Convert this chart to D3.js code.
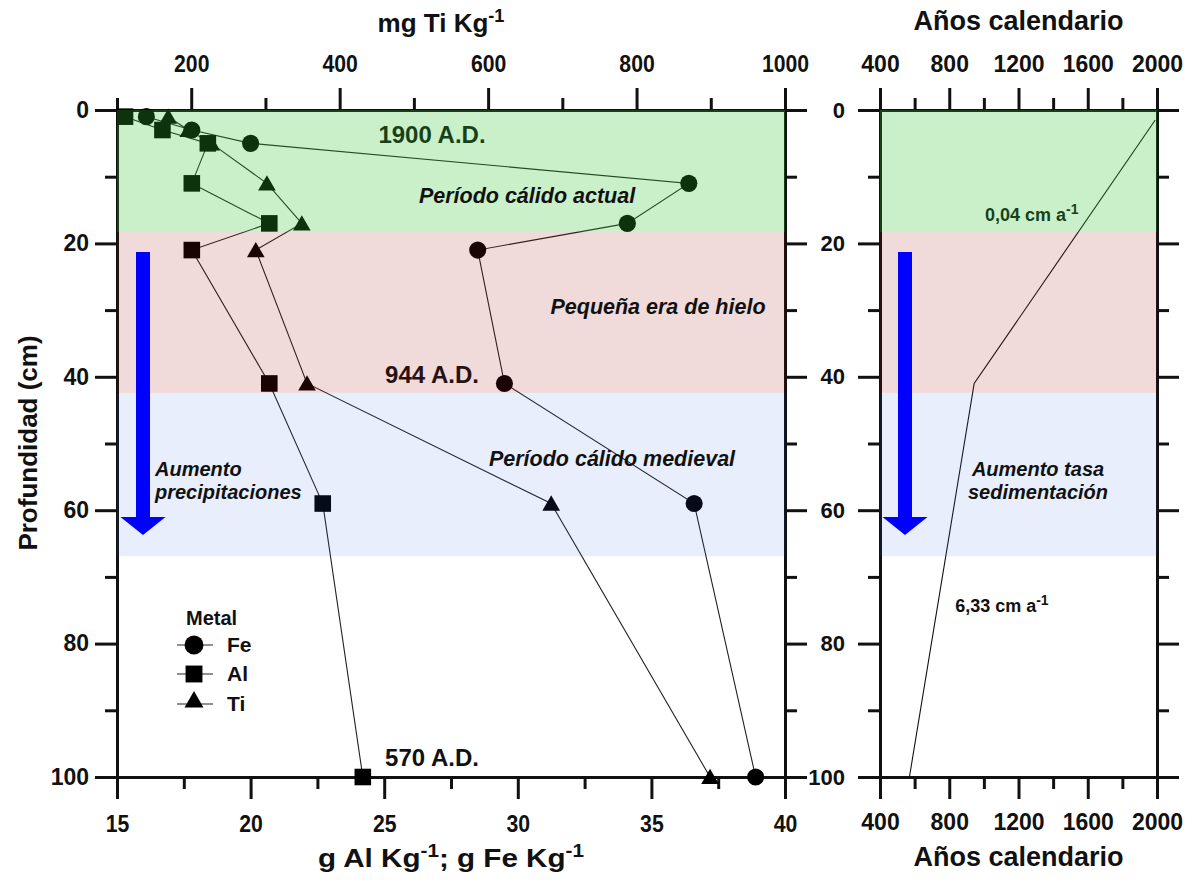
<!DOCTYPE html>
<html>
<head>
<meta charset="utf-8">
<script src="https://cdn.jsdelivr.net/npm/d3@7"></script>
<style>
  body { margin: 0; background: #fff; }
  svg text { font-family: "Liberation Sans", Arial, sans-serif; font-weight: bold; }
</style>
</head>
<body>
<svg id="chart" width="1188" height="880"></svg>
<script>
// sampled depths (cm) and metal contents
const depth = [1, 3, 5, 11, 17, 21, 41, 59, 100];
const fe = [16.1, 17.8, 20.0, 36.4, 34.1, 28.5, 29.5, 36.6, 38.9];   // g Fe Kg-1
const al = [15.3, 16.7, 18.4, 17.8, 20.7, 17.8, 20.7, 22.7, 24.2];   // g Al Kg-1
const ti = [169, 196, 227, 302, 349, 287, 356, 685, 899];            // mg Ti Kg-1

// age model
const ageYears = [1990, 944, 570];
const ageDepth = [1.5, 41, 100];

// climate periods (depth ranges, cm)
const periods = [
  { name: "Período cálido actual", top: 0, bottom: 18.3, color: "rgb(46,197,46)", alpha: 0.26 },
  { name: "Pequeña era de hielo", top: 18.3, bottom: 42.4, color: "rgb(159,19,19)", alpha: 0.157 },
  { name: "Período cálido medieval", top: 42.4, bottom: 66.9, color: "rgb(45,100,227)", alpha: 0.11 }
];

const depthTicks = [0, 20, 40, 60, 80, 100];
const depthMinor = [10, 30, 50, 70, 90];
const gTicks = [15, 20, 25, 30, 35, 40];
const gMinor = [17.5, 22.5, 27.5, 32.5, 37.5];
const tiTicks = [200, 400, 600, 800, 1000];
const tiMinor = [100, 300, 500, 700, 900];
const yearTicks = [400, 800, 1200, 1600, 2000];
const yearMinor = [600, 1000, 1400, 1800];

const svg = d3.select("#chart");

const leftP = { x0: 117, x1: 785 };
const rightP = { x0: 880, x1: 1157 };
const yTop = 110, yBot = 777;

const y = d3.scaleLinear().domain([0, 100]).range([yTop, yBot]);
const xG = d3.scaleLinear().domain([15, 40]).range([leftP.x0, leftP.x1]);
const xTi = d3.scaleLinear().domain([100, 1000]).range([leftP.x0, leftP.x1]);
const xYr = d3.scaleLinear().domain([400, 2000]).range([rightP.x0, rightP.x1]);

function drawAxis(make, scale, major, minor, transform, opts) {
  const g = svg.append("g").attr("transform", transform);
  const ax = make(scale).tickValues(major).tickSize(22).tickSizeOuter(0)
    .tickPadding(opts.pad || 6)
    .tickFormat(opts.labels ? d3.format("d") : "");
  const gMaj = g.append("g").call(ax);
  const txt = gMaj.selectAll("text").attr("font-size", opts.size || 21).attr("fill", "#111");
  // condensed look: taller glyphs squeezed to the original width
  if (opts.narrow) txt.attr("textLength", function() { return this.textContent.length * 11.8; })
    .attr("lengthAdjust", "spacingAndGlyphs");
  const gMin = g.append("g").call(make(scale).tickValues(minor).tickSize(12).tickSizeOuter(0).tickFormat(""));
  gMin.select(".domain").remove();
  g.selectAll("line").attr("stroke", "#111").attr("stroke-width", 3);
  g.selectAll(".domain").attr("stroke", "#111").attr("stroke-width", 3).attr("stroke-linecap", "square");
  return g;
}

// ---- left panel axes
drawAxis(d3.axisLeft, y, depthTicks, depthMinor, `translate(${leftP.x0},0)`, { labels: true, pad: 6, size: 23 });
drawAxis(d3.axisRight, y, depthTicks, depthMinor, `translate(${leftP.x1},0)`, { labels: false });
drawAxis(d3.axisTop, xTi, tiTicks, tiMinor, `translate(0,${yTop})`, { labels: true, pad: 16, narrow: true, size: 24 });
drawAxis(d3.axisBottom, xG, gTicks, gMinor, `translate(0,${yBot})`, { labels: true, pad: 16, narrow: true, size: 24 });

// ---- right panel axes
drawAxis(d3.axisLeft, y, depthTicks, depthMinor, `translate(${rightP.x0},0)`, { labels: true, pad: 13, size: 22 });
drawAxis(d3.axisRight, y, depthTicks, depthMinor, `translate(${rightP.x1},0)`, { labels: false });
drawAxis(d3.axisTop, xYr, yearTicks, yearMinor, `translate(0,${yTop})`, { labels: true, pad: 16, size: 23 });
drawAxis(d3.axisBottom, xYr, yearTicks, yearMinor, `translate(0,${yBot})`, { labels: true, pad: 15, size: 23 });

// ---- series
const rows = depth.map((d, i) => ({ depth: d, fe: fe[i], al: al[i], ti: ti[i] }));
const series = [
  { key: "fe", x: xG, shape: d3.symbolCircle, size: 230 },
  { key: "al", x: xG, shape: d3.symbolSquare, size: 275 },
  { key: "ti", x: xTi, shape: d3.symbolTriangle, size: 135 }
];

const plot = svg.append("g");
series.forEach(s => {
  const line = d3.line().x(d => s.x(d[s.key])).y(d => y(d.depth));
  plot.append("path").datum(rows).attr("d", line)
    .attr("fill", "none").attr("stroke", "#222").attr("stroke-width", 1.1);
});
series.forEach(s => {
  plot.selectAll(null).data(rows).join("path")
    .attr("transform", d => `translate(${s.x(d[s.key])},${y(d.depth) + (s.shape === d3.symbolTriangle ? 2 : 0)})`)
    .attr("d", d3.symbol(s.shape, s.size))
    .attr("fill", "#000");
});

// age-depth line
const ageRows = ageYears.map((a, i) => ({ year: a, depth: ageDepth[i] }));
plot.append("path").datum(ageRows)
  .attr("d", d3.line().x(d => xYr(d.year)).y(d => y(d.depth)))
  .attr("fill", "none").attr("stroke", "#111").attr("stroke-width", 1.1);

// date labels (under the period tint)
const dates = [
  { text: "1900 A.D.", x: 432, d: 5.0 },
  { text: "944 A.D.", x: 432, d: 40.9 },
  { text: "570 A.D.", x: 432, d: 98.3 }
];
svg.selectAll(null).data(dates).join("text")
  .attr("x", d => d.x).attr("y", d => y(d.d))
  .attr("text-anchor", "middle").attr("font-size", 24).attr("fill", "#111")
  .text(d => d.text);

function rateLabel(x, yy, txt) {
  const t = svg.append("text").attr("x", x).attr("y", yy).attr("font-size", 18).attr("fill", "#111");
  t.append("tspan").text(txt);
  t.append("tspan").attr("dy", -7).attr("font-size", 14).text("-1");
}
rateLabel(xYr(1006), y(16.6), "0,04 cm a");
rateLabel(xYr(834), y(75.2), "6,33 cm a");

// ---- period tint, drawn over data like the original
[leftP, rightP].forEach(p => {
  svg.selectAll(null).data(periods).join("rect")
    .attr("x", p.x0).attr("width", p.x1 - p.x0)
    .attr("y", d => y(d.top)).attr("height", d => y(d.bottom) - y(d.top))
    .attr("fill", d => d.color).attr("fill-opacity", d => d.alpha);
});

// period names
const periodLabels = [
  { text: "Período cálido actual", x: 527, d: 13.9 },
  { text: "Pequeña era de hielo", x: 658, d: 30.6 },
  { text: "Período cálido medieval", x: 612, d: 53.4 }
];
svg.selectAll(null).data(periodLabels).join("text")
  .attr("x", d => d.x).attr("y", d => y(d.d))
  .attr("text-anchor", "middle").attr("font-size", 21.5).attr("font-style", "italic").attr("fill", "#111")
  .text(d => d.text);

// ---- blue arrows
const arrowTop = 21.3, arrowTip = 63.7, headLen = 18, shaftW = 14, headW = 45;
function arrow(cx) {
  const y0 = y(arrowTop), y1 = y(arrowTip), yb = y1 - headLen;
  const pts = [
    [cx - shaftW / 2, y0], [cx + shaftW / 2, y0], [cx + shaftW / 2, yb], [cx + headW / 2, yb],
    [cx, y1], [cx - headW / 2, yb], [cx - shaftW / 2, yb]
  ];
  svg.append("path").attr("d", d3.line()(pts) + "Z").attr("fill", "#0000ff");
}
arrow(143);
arrow(905);

function twoLines(x, d, lines, anchor) {
  const t = svg.append("text").attr("x", x).attr("y", y(d))
    .attr("font-size", 20).attr("font-style", "italic").attr("text-anchor", anchor).attr("fill", "#111");
  lines.forEach((l, i) => t.append("tspan").attr("x", x).attr("dy", i ? 23 : 0).text(l));
}
twoLines(155, 54.9, ["Aumento", "precipitaciones"], "start");
twoLines(1038, 54.9, ["Aumento tasa", "sedimentación"], "middle");

// ---- legend
const legend = svg.append("g").attr("transform", "translate(177,0)");
legend.append("text").attr("x", 9).attr("y", 625).attr("font-size", 20).attr("fill", "#111").text("Metal");
const legendItems = [
  { name: "Fe", shape: d3.symbolCircle, size: 280, yy: 645 },
  { name: "Al", shape: d3.symbolSquare, size: 285, yy: 674 },
  { name: "Ti", shape: d3.symbolTriangle, size: 155, yy: 704 }
];
legendItems.forEach(it => {
  legend.append("line").attr("x1", 0).attr("x2", 36).attr("y1", it.yy).attr("y2", it.yy)
    .attr("stroke", "#222").attr("stroke-width", 1.1);
  legend.append("path").attr("transform", `translate(17,${it.yy + (it.shape === d3.symbolTriangle ? -2 : 0)})`)
    .attr("d", d3.symbol(it.shape, it.size)).attr("fill", "#000");
  legend.append("text").attr("x", 50).attr("y", it.yy + 7).attr("font-size", 21).attr("fill", "#111").text(it.name);
});

// ---- axis titles
function title(x, yy, parts, size, opts = {}) {
  const t = svg.append("text").attr("x", x).attr("y", yy).attr("text-anchor", "middle")
    .attr("font-size", size).attr("fill", "#111");
  if (opts.rotate) t.attr("transform", `rotate(-90,${x},${yy})`);
  if (opts.width) t.attr("textLength", opts.width).attr("lengthAdjust", "spacingAndGlyphs");
  parts.forEach(p => {
    if (p.sup) t.append("tspan").attr("dy", -10).attr("font-size", size * 0.7).text(p.sup);
    else t.append("tspan").attr("dy", p.back ? 10 : 0).text(p.t);
  });
}
title(441, 32, [{ t: "mg Ti Kg" }, { sup: "-1" }], 26, { width: 127 });
title(451, 867, [{ t: "g Al Kg" }, { sup: "-1" }, { t: "; g Fe Kg", back: true }, { sup: "-1" }], 26, { width: 266 });
title((rightP.x0 + rightP.x1) / 2, 30, [{ t: "Años calendario" }], 27);
title((rightP.x0 + rightP.x1) / 2, 866, [{ t: "Años calendario" }], 27);
title(37, 443, [{ t: "Profundidad (cm)" }], 26, { rotate: true });
</script>
</body>
</html>
